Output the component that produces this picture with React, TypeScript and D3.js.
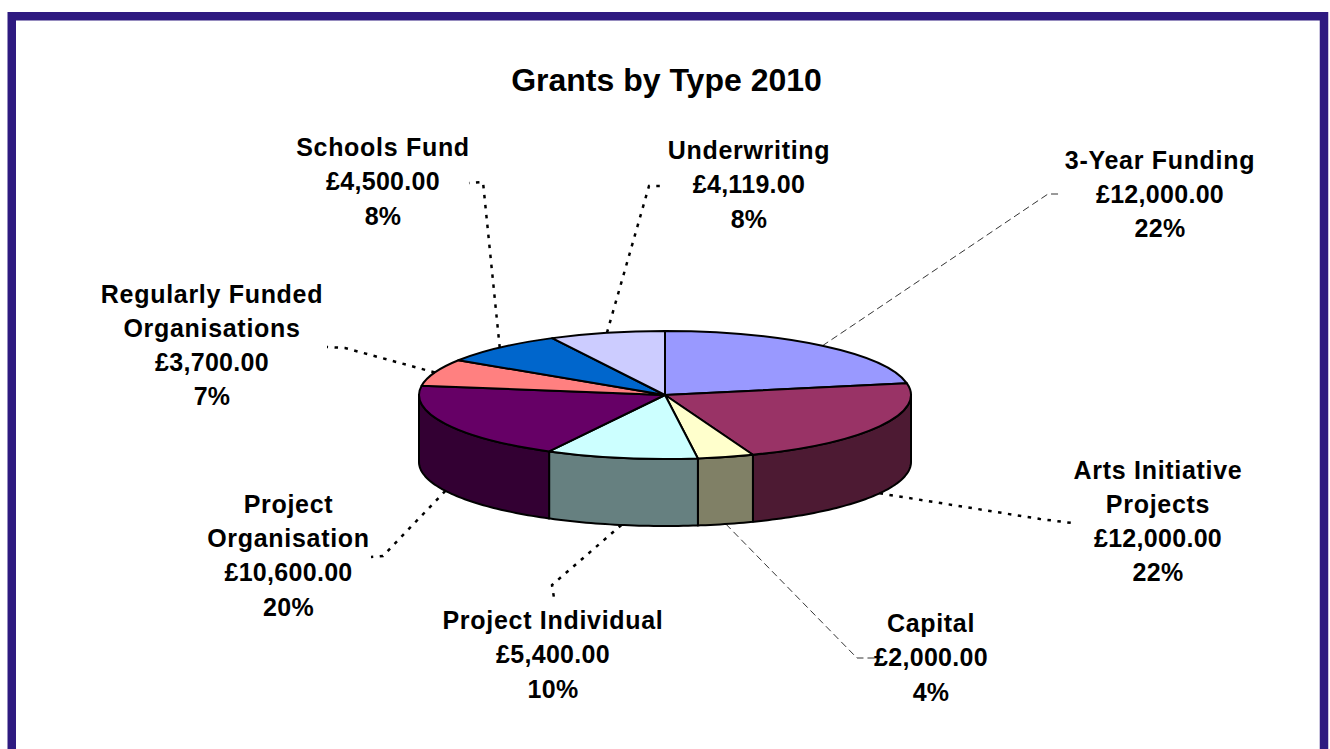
import React, { useEffect, useRef } from 'react';
import * as d3 from 'd3';

const categories = [
  ['3-Year Funding'],
  ['Arts Initiative', 'Projects'],
  ['Capital'],
  ['Project Individual'],
  ['Project', 'Organisation'],
  ['Regularly Funded', 'Organisations'],
  ['Schools Fund'],
  ['Underwriting'],
];
const amounts = [12000, 12000, 2000, 5400, 10600, 3700, 4500, 4119];
const percents = ['22%', '22%', '4%', '10%', '20%', '7%', '8%', '8%'];
const topColors = ['#9999ff', '#993366', '#ffffcc', '#ccffff', '#660066', '#ff8080', '#0066cc', '#ccccff'];
const sideColors = ['#4d4d80', '#4d1a33', '#808066', '#668080', '#330033', '#804040', '#003366', '#666680'];

// label centre and first baseline, then the leader's bend and end
const labelPos = [
  [1160, 168.5], [1158, 478.5], [931, 632], [553, 629], [288.5, 512.7], [212, 302.5], [383, 156], [749, 159],
];
const leaderEnds = [
  [[1048, 194], [1061, 194]],
  [[1040, 519], [1072, 523]],
  [[857, 658], [875, 658]],
  [[552, 585], [554, 598]],
  [[383, 556], [371, 557]],
  [[345, 348], [327, 347]],
  [[483, 182], [469, 183]],
  [[649, 186], [663, 186]],
];
const thinLeaders = [0, 2];

const W = 1330;
const H = 749;
const cx = 665;
const cy = 395;
const rx = 246;
const ry = 64;
const depth = 67;

const money = (v: number) => '£' + d3.format(',.2f')(v);

const App: React.FC = () => {
  const svgRef = useRef<SVGSVGElement>(null);

  useEffect(() => {
    if (!svgRef.current) return;
    const svg = d3.select(svgRef.current);
    svg.selectAll('*').remove();

    svg.append('rect').attr('width', W).attr('height', H).attr('fill', '#ffffff');

    // page frame, open at the bottom
    svg.append('path')
      .attr('d', `M11.75,${H} V16.25 H1324 V${H}`)
      .attr('fill', 'none')
      .attr('stroke', '#2e1a80')
      .attr('stroke-width', 8.5);

    svg.append('text')
      .attr('x', 666.5)
      .attr('y', 91)
      .attr('text-anchor', 'middle')
      .attr('font-family', 'Liberation Sans')
      .attr('font-weight', 700)
      .attr('font-size', 32)
      .text('Grants by Type 2010');

    const pie = d3.pie<number>().value(d => d).sort(null);
    const slices = pie(amounts);

    const px = (a: number) => cx + rx * Math.sin(a);
    const py = (a: number) => cy - ry * Math.cos(a);

    // side walls, only the part of each slice that faces the viewer
    const wall = d3.line<[number, number]>();
    const front = [Math.PI / 2, (3 * Math.PI) / 2];
    const walls = svg.append('g');
    slices.forEach((s, i) => {
      const a0 = Math.max(s.startAngle, front[0]);
      const a1 = Math.min(s.endAngle, front[1]);
      if (a1 <= a0) return;
      const angles = d3.range(a0, a1, 0.02).concat(a1);
      const rim = angles.map(a => [px(a), py(a)] as [number, number]);
      const low = angles.slice().reverse().map(a => [px(a), py(a) + depth] as [number, number]);
      walls.append('path')
        .attr('d', wall(rim.concat(low)) + 'Z')
        .attr('fill', sideColors[i])
        .attr('stroke', '#000')
        .attr('stroke-width', 2)
        .attr('stroke-linejoin', 'round');
    });

    // top face, circular arcs squashed into the ellipse
    const arc = d3.arc<d3.PieArcDatum<number>>().innerRadius(0).outerRadius(rx);
    svg.append('g')
      .attr('transform', `translate(${cx},${cy}) scale(1,${ry / rx})`)
      .selectAll('path')
      .data(slices)
      .enter()
      .append('path')
      .attr('d', d => arc(d) as string)
      .attr('fill', (d, i) => topColors[i])
      .attr('stroke', '#000')
      .attr('stroke-width', 2)
      .attr('stroke-linejoin', 'round')
      .attr('vector-effect', 'non-scaling-stroke');

    // leaders start at the slice's middle, on the lower rim when it faces front
    const leaderLine = d3.line();
    slices.forEach((s, i) => {
      const mid = (s.startAngle + s.endAngle) / 2;
      const onFront = mid > front[0] && mid < front[1];
      const start: [number, number] = [px(mid), py(mid) + (onFront ? depth : 0)];
      const thin = thinLeaders.includes(i);
      svg.append('path')
        .attr('d', leaderLine([start, ...(leaderEnds[i] as [number, number][])]))
        .attr('fill', 'none')
        .attr('stroke', '#000')
        .attr('stroke-width', thin ? 0.8 : 2.5)
        .attr('stroke-dasharray', thin ? '7 4' : '3.5 6.5');
    });

    // labels
    const labels = svg.append('g')
      .attr('text-anchor', 'middle')
      .attr('font-family', 'Liberation Sans')
      .attr('font-weight', 700)
      .attr('font-size', 25);
    categories.forEach((lines, i) => {
      const rows = [...lines, money(amounts[i]), percents[i]];
      rows.forEach((row, j) => {
        labels.append('text')
          .attr('x', labelPos[i][0])
          .attr('y', labelPos[i][1] + j * 34.3)
          .attr('letter-spacing', j < lines.length ? 0.7 : 0.3)
          .text(row);
      });
    });
  }, []);

  return (
    <svg
      ref={svgRef}
      width={W}
      height={H}
      style={{ position: 'absolute', left: 0, top: 0, display: 'block' }}
    ></svg>
  );
};

export default App;
